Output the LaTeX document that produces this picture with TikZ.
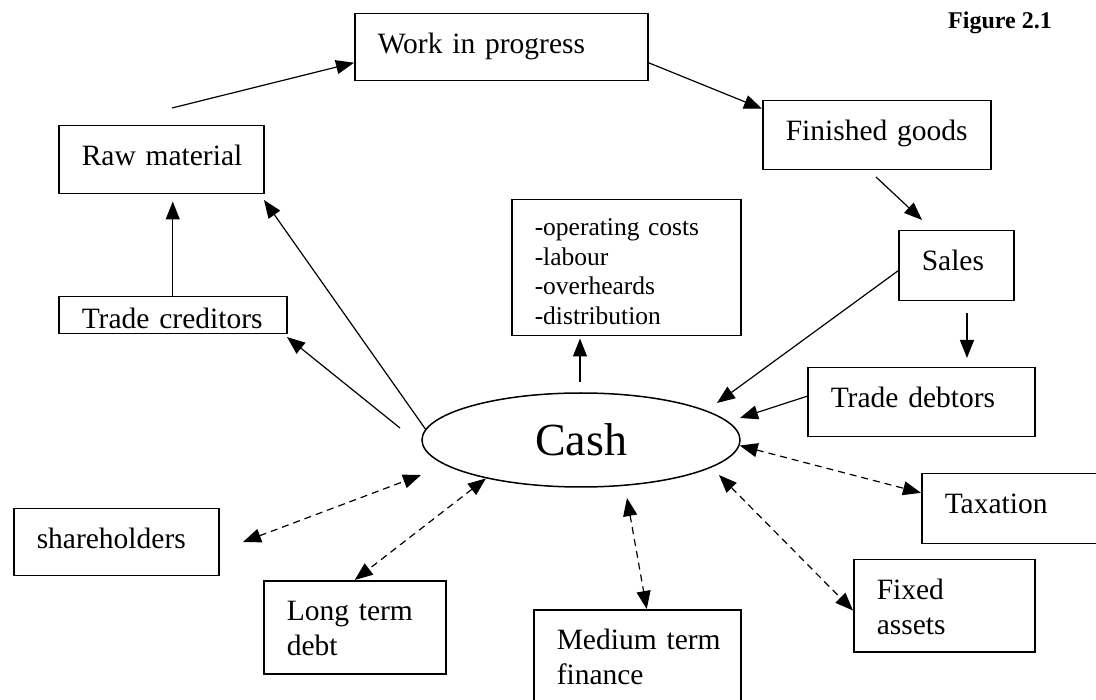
\documentclass[tikz,border=0pt]{standalone}
\usepackage{fontspec}
\setmainfont{Liberation Serif}
\usepackage{tikz}
\usetikzlibrary{arrows.meta, shapes.geometric}

\newcommand{\boxfont}{\fontsize{29.5}{35}\selectfont}
\newcommand{\listfont}{\fontsize{25.5}{29.5}\selectfont}
\newcommand{\cashfont}{\fontsize{46}{50}\selectfont}
\newcommand{\figfont}{\fontsize{24}{28}\selectfont\bfseries}
\hyphenpenalty=10000
\exhyphenpenalty=10000

\begin{document}
\begin{tikzpicture}[
    x=1pt, y=-1pt,
    box/.style={rectangle, draw=black, line width=1.5pt, inner xsep=23pt,
                inner ysep=0pt, align=left, text height=40pt, font=\boxfont,
                anchor=north west},
    oval/.style={ellipse, draw=black, line width=1.5pt, inner sep=0pt,
                 font=\cashfont},
    arrow/.style={-{Triangle[length=18pt, width=14pt]}, line width=1.2pt},
    flow/.style={{Triangle[length=18pt, width=14pt]}-{Triangle[length=18pt, width=14pt]},
                 line width=1.2pt, dash pattern=on 7pt off 5pt}
]
    \useasboundingbox (0,0) rectangle (1096,700);

    % === Operating cycle ===
    \node[font=\figfont, anchor=base] (fig) at (1000,29) {Figure 2.1};

    \node[box, text width=247pt, text depth=27pt] (wip) at (354,13) {Work~in~progress};
    \node[box, text width=159pt, text depth=28pt] (raw) at (58,125) {Raw~material};
    \node[box, text width=182pt, text height=32pt, text depth=5pt] (tcred) at (58,296) {Trade~creditors};
    \node[box, text width=182pt, text depth=29pt] (fin) at (762,100) {Finished~goods};
    \node[box, text width=69pt, text depth=30pt] (sales) at (898,230) {Sales};
    \node[box, text width=183pt, text height=36pt, text depth=100pt, font=\listfont] (oper) at (511,199)
        {-operating~costs\\-labour\\-overheards\\-distribution};
    \node[box, text width=181pt, text depth=29pt] (tdeb) at (807,367) {Trade~debtors};

    \node[oval, minimum width=318pt, minimum height=94pt] (cash) at (581,440) {Cash};

    % === Financing ===
    \node[box, text width=133pt, text depth=30pt] (tax) at (921,473) {Taxation};
    \node[box, text width=159pt, text depth=27pt] (share) at (13,508) {shareholders};
    \node[box, text width=136pt, text depth=53pt] (ltd) at (263,580) {Long~term\\debt};
    \node[box, text width=161pt, text depth=56pt] (med) at (533,609) {Medium~term\\finance};
    \node[box, text width=135pt, text depth=52pt] (fixed) at (853,559) {Fixed\\assets};

    % free ends of the connectors
    \coordinate (rawtop) at (172,108);
    \coordinate (finbot) at (876,177);
    \coordinate (salestop) at (922,220);
    \coordinate (rawcorner) at (264,200);
    \coordinate (cashleft) at (400,428);
    \coordinate (tccorner) at (287,337);
    \coordinate (opbot) at (580,382);
    \coordinate (cashne) at (717,403);
    \coordinate (sdtop) at (967,313);
    \coordinate (cashe) at (740,418);
    \coordinate (cashse) at (719,475);
    \coordinate (cashs) at (627,498);
    \coordinate (sharetip) at (243,542);
    \coordinate (cashsw) at (421,475);

    % === Solid arrows ===
    \draw[arrow] (rawtop) -- (wip.186);
    \draw[arrow] (wip.-6) -- (fin.167);
    \draw[arrow] (finbot) -- (salestop);
    \draw[arrow, shorten >=7pt] (tcred.north) -- (tcred.north |- raw.south);
    \draw[arrow] (cash.176) -- (rawcorner);
    \draw[arrow] (cashleft) -- (tccorner);
    \draw[arrow, shorten >=2pt] (opbot) -- (opbot |- oper.south);
    \draw[arrow] (sales.185) -- (cashne);
    \draw[arrow, shorten >=9pt] (sdtop) -- (sdtop |- tdeb.north);
    \draw[arrow] (tdeb.177) -- (cashe);

    % === Dashed two-way arrows ===
    \draw[flow] (cash.-2) -- (tax.170);
    \draw[flow] (cashse) -- (fixed.183);
    \draw[flow] (cashs) -- (med.79);
    \draw[flow] (cash.202) -- (ltd.north);
    \draw[flow] (sharetip) -- (cashsw);

\end{tikzpicture}
\end{document}
